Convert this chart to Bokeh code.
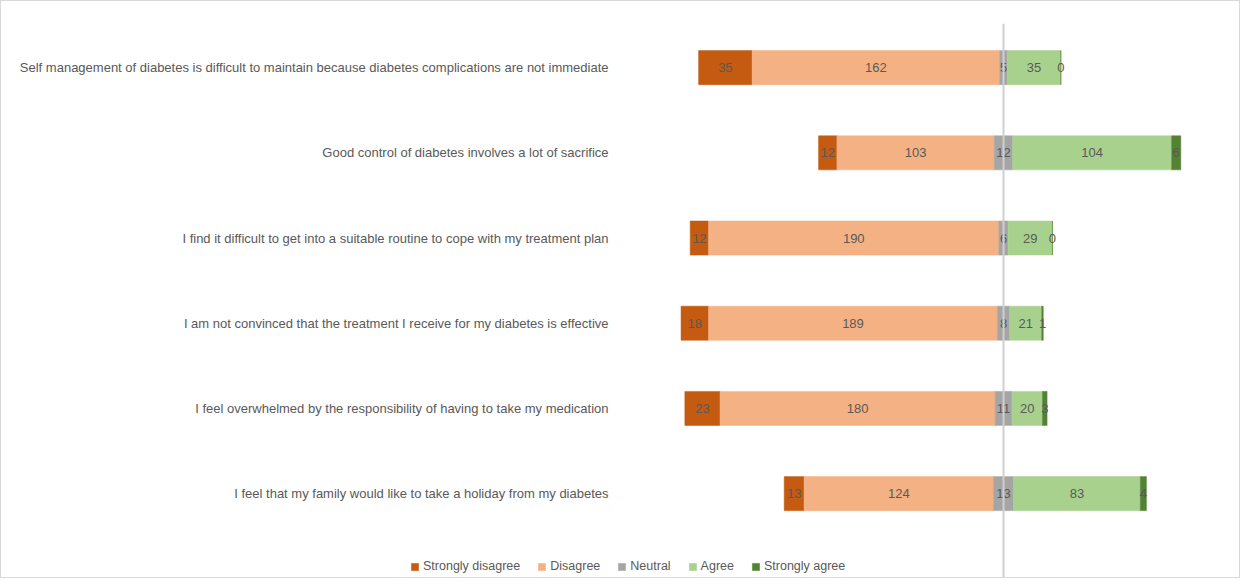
from bokeh.plotting import figure
from bokeh.models import Range1d, Span, Legend, LegendItem
from bokeh.core.properties import value
from bokeh.embed import file_html
from bokeh.resources import INLINE

categories = [
    "Self management of diabetes is difficult to maintain because diabetes complications are not immediate",
    "Good control of diabetes involves a lot of sacrifice",
    "I find it difficult to get into a suitable routine to cope with my treatment plan",
    "I am not convinced that the treatment I receive for my diabetes is effective",
    "I feel overwhelmed by the responsibility of having to take my medication",
    "I feel that my family would like to take a holiday from my diabetes",
]
strongly_disagree = [35, 12, 12, 18, 23, 13]
disagree = [162, 103, 190, 189, 180, 124]
neutral = [5, 12, 6, 8, 11, 13]
agree = [35, 104, 29, 21, 20, 83]
strongly_agree = [0, 6, 0, 1, 3, 4]

series_names = ["Strongly disagree", "Disagree", "Neutral", "Agree", "Strongly agree"]
colors = ["#C55A11", "#F4B183", "#A5A5A5", "#A9D18E", "#548235"]

n = len(categories)
ypos = [n - 1 - i for i in range(n)]  # first category at top

# segment boundaries (diverging around neutral midpoint)
sd_l = [-(a + b + c / 2) for a, b, c in zip(strongly_disagree, disagree, neutral)]
d_l = [-(b + c / 2) for b, c in zip(disagree, neutral)]
n_l = [-c / 2 for c in neutral]
a_l = [c / 2 for c in neutral]
sa_l = [c / 2 + a for c, a in zip(neutral, agree)]
sa_r = [c / 2 + a + s for c, a, s in zip(neutral, agree, strongly_agree)]
lefts = [sd_l, d_l, n_l, a_l, sa_l]
rights = [d_l, n_l, a_l, sa_l, sa_r]
vals = [strongly_disagree, disagree, neutral, agree, strongly_agree]

p = figure(width=1240, height=578, output_backend="svg", toolbar_location=None,
           x_range=Range1d(-655.6, 155.7), y_range=Range1d(-1.008, 5.518))
p.min_border_left = 0
p.min_border_right = 0
p.min_border_top = 22
p.min_border_bottom = 0
p.outline_line_color = None
p.styles = {"border": "1px solid #d9d9d9"}
p.xgrid.visible = False
p.ygrid.visible = False
p.xaxis.visible = False
p.yaxis.visible = False

# category labels, right-aligned left of the bars
p.text(x=[0] * n, y=ypos, text=categories, x_offset=-395, text_align="right",
       text_baseline="middle", text_font=value("Liberation Sans"), text_font_size="13px",
       text_color="#595959")

items = []
for name, col, l, r, v in zip(series_names, colors, lefts, rights, vals):
    rr = p.hbar(y=ypos, left=l, right=r, height=0.4, fill_color=col, line_color=col, line_width=0.5)
    items.append(LegendItem(label=name, renderers=[rr]))
    cx = [(a + b) / 2 for a, b in zip(l, r)]
    p.text(x=cx, y=ypos, text=[str(x) for x in v], text_align="center", text_baseline="middle",
           text_font=value("Liberation Sans"), text_font_size="13px", text_color="#595959")

p.add_layout(Span(location=0, dimension="height", line_color="#d0d0d0", line_width=2))

legend = Legend(items=items, orientation="horizontal", location=(409, 6),
                label_text_font="Liberation Sans", label_text_font_size="12.5px",
                label_text_color="#595959", glyph_width=9, glyph_height=9,
                label_standoff=4, spacing=17, padding=4, border_line_color=None,
                background_fill_alpha=0)
p.add_layout(legend)

open("out.html", "w").write(file_html(p, INLINE))
